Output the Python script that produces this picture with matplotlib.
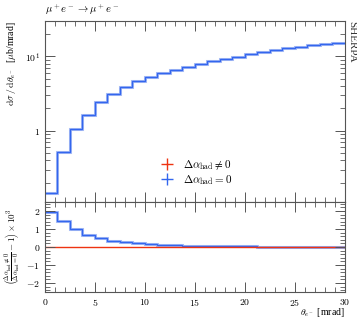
import matplotlib
matplotlib.use('Agg')
import matplotlib.pyplot as plt
from matplotlib.lines import Line2D
import numpy as np

plt.rcParams['font.family'] = ['Liberation Serif', 'DejaVu Serif']
plt.rcParams['mathtext.fontset'] = 'cm'

# bin edges in mrad
edges = [0.0, 1.25, 2.5, 3.75, 5.0, 6.25, 7.5, 8.75, 10.0, 11.25, 12.5, 13.75, 15.0,
         16.25, 17.5, 18.75, 20.0, 21.25, 22.5, 23.75, 25.0, 26.25, 27.5, 28.75, 30.0]

# dsigma/dtheta [mub/mrad], Delta alpha_had = 0
xsec_zero = [0.144, 0.51, 1.05, 1.65, 2.44, 3.13, 3.85, 4.6, 5.25, 5.9, 6.5, 7.2,
             7.96, 8.66, 9.2, 9.8, 10.6, 11.4, 12.2, 12.8, 13.5, 14.1, 14.9, 15.3]

# ratio (x 10^3) shown in lower panel
ratio_zero = [1.93, 1.45, 0.98, 0.66, 0.49, 0.34, 0.25, 0.20, 0.16, 0.12, 0.10, 0.08,
              0.07, 0.06, 0.05, 0.04, 0.03, 0.02, 0.02, 0.01, 0.01, 0.01, 0.0, 0.0]
ratio_nonzero = [0.0] * 24

xsec_nonzero = list(np.array(xsec_zero) / (1 + np.array(ratio_zero) * 1e-3))

red = '#ee3311'
blue = '#3366ee'

fig = plt.figure(figsize=(3.57, 3.22), dpi=100)
ax = fig.add_axes([0.126, 0.373, 0.840, 0.562])
rax = fig.add_axes([0.126, 0.093, 0.840, 0.280], sharex=ax)

# main panel
ax.stairs(xsec_nonzero, edges, color=red, lw=1.0, baseline=None)
ax.stairs(xsec_zero, edges, color='#a9bdf5', lw=2.2, baseline=None)
ax.stairs(xsec_zero, edges, color=blue, lw=1.0, baseline=None)
ax.set_yscale('log')
ax.set_ylim(0.11, 30)
ax.set_xlim(0, 30)
ax.set_yticks([1, 10])
ax.set_yticklabels(['$1$', '$10^1$'])

# ratio panel
rax.stairs(ratio_zero, edges, color='#a9bdf5', lw=2.2, baseline=None)
rax.stairs(ratio_zero, edges, color=blue, lw=1.0, baseline=None)
rax.stairs(ratio_nonzero, edges, color=red, lw=1.0, baseline=None)
rax.set_ylim(-2.5, 2.5)
rax.set_yticks([-2, -1, 0, 1, 2])
rax.set_yticklabels(['$-2$', '$-1$', '$0$', '$1$', '$2$'])
rax.set_yticks(np.arange(-2.4, 2.5, 0.2), minor=True)
rax.set_xticks([0, 5, 10, 15, 20, 25, 30])
rax.set_xticks(np.arange(0, 31, 1), minor=True)
rax.set_xticklabels(['$0$', '$5$', '$10$', '$15$', '$20$', '$25$', '$30$'])

for a in (ax, rax):
    a.tick_params(which='both', direction='in', top=True, right=True, labelsize=7,
                  color='#555555')
    a.tick_params(which='major', length=7, width=0.7)
    a.tick_params(which='minor', length=3.5, width=0.6)
    for s in a.spines.values():
        s.set_color('#555555')
        s.set_linewidth(0.8)
ax.tick_params(labelbottom=False)

ax.set_ylabel(r'$\mathrm{d}\sigma\,/\,\mathrm{d}\theta_{e^-}$  [$\mu$b/mrad]',
              loc='top', fontsize=7)
rax.set_ylabel(r'$\left(\frac{\Delta\alpha_{\mathrm{had}}\neq0}{\Delta\alpha_{\mathrm{had}}=0}-1\right)\times10^3$',
               fontsize=6.5)
rax.set_xlabel(r'$\theta_{e^-}$ [mrad]', loc='right', fontsize=7)
ax.yaxis.set_label_coords(-0.09, 1.0)
rax.yaxis.set_label_coords(-0.075, 0.5)
rax.xaxis.set_label_coords(1.0, -0.15)

ax.set_title(r'$\mu^+e^-\to\mu^+e^-$', loc='left', fontsize=7.5, pad=6)
ax.text(1.008, 1.0, 'SHERPA', transform=ax.transAxes, rotation=-90,
        va='top', ha='left', fontsize=8, color='#333333')

handles = [Line2D([], [], color=red, marker='+', ls='none', markersize=9, mew=1.0),
           Line2D([], [], color=blue, marker='+', ls='none', markersize=9, mew=1.0)]
labels = [r'$\Delta\alpha_{\mathrm{had}}\neq0$', r'$\Delta\alpha_{\mathrm{had}}=0$']
ax.legend(handles, labels, loc='lower left', bbox_to_anchor=(0.36, 0.04),
          frameon=False, fontsize=8, handlelength=1.2, handletextpad=0.8,
          labelspacing=0.1, borderpad=0.2)

fig.savefig('out.png', dpi=100)
